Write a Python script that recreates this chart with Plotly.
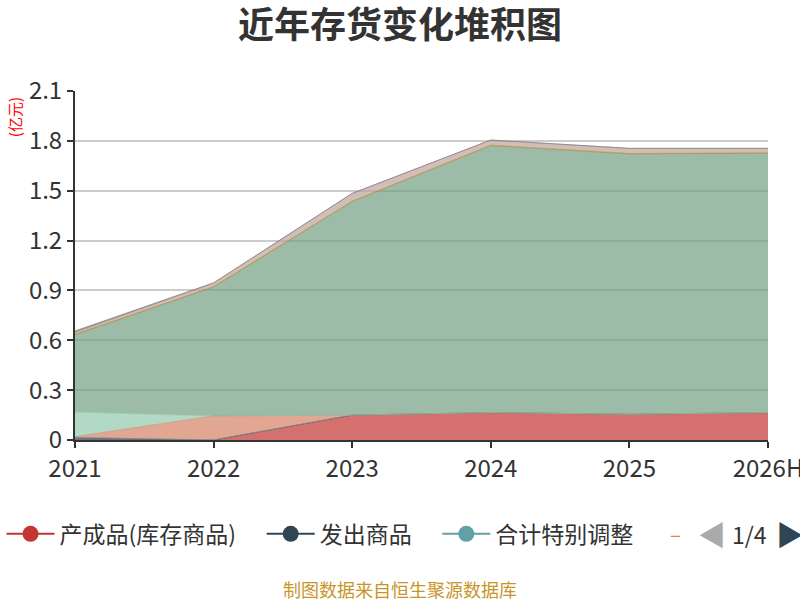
import plotly.graph_objects as go

years = ["2021", "2022", "2023", "2024", "2025", "2026H"]

# 存货构成（亿元），按堆积顺序
finished_goods = [0.0, 0.0, 0.15, 0.165, 0.155, 0.165]
goods_shipped = [0.015, 0.0, 0.0, 0.0, 0.0, 0.0]
special_adjust = [0.0, 0.0, 0.0, 0.0, 0.0, 0.0]
work_in_process = [0.005, 0.145, 0.0, 0.0, 0.0, 0.0]
consigned = [0.148, 0.0, 0.0, 0.0, 0.0, 0.0]
raw_materials = [0.465, 0.775, 1.284, 1.606, 1.566, 1.56]
turnover_materials = [0.003, 0.003, 0.003, 0.003, 0.003, 0.003]
low_value_items = [0.01, 0.02, 0.047, 0.031, 0.031, 0.027]
other_items = [0.01, 0.003, 0.0, 0.0, 0.0, 0.0]

series = [
    ("产成品(库存商品)", finished_goods, "#c23531"),
    ("发出商品", goods_shipped, "#2f4554"),
    ("合计特别调整", special_adjust, "#61a0a8"),
    ("在产品", work_in_process, "#d48265"),
    ("委托加工物资", consigned, "#91c7ae"),
    ("原材料", raw_materials, "#749f83"),
    ("周转材料", turnover_materials, "#ca8622"),
    ("低值易耗品", low_value_items, "#bda29a"),
    ("其他", other_items, "#6e7074"),
]


def rgba(hex_color, a):
    h = hex_color.lstrip("#")
    r, g, b = int(h[0:2], 16), int(h[2:4], 16), int(h[4:6], 16)
    return f"rgba({r},{g},{b},{a})"


fig = go.Figure()
for name, vals, color in series:
    fig.add_trace(go.Scatter(
        x=years, y=vals, name=name, mode="lines",
        stackgroup="inv", fillcolor=rgba(color, 0.7),
        line=dict(color=rgba(color, 0.6), width=1),
        showlegend=False,
    ))

# legend entries (line + dot, like the paged legend of the original)
pad = [4, 4, 2]
for (name, vals, color), n in zip(series[:3], pad):
    fig.add_trace(go.Scatter(
        x=[None], y=[None], name=name + "\u00a0" * n, mode="lines+markers",
        line=dict(color=color, width=2),
        marker=dict(color=color, size=20),
    ))

font = "Noto Sans CJK SC, Noto Sans, sans-serif"

# plot area: x 75..768, y 91..440 (px)
fig.update_layout(
    width=800, height=600,
    margin=dict(l=75, r=32, t=91, b=160, autoexpand=False),
    paper_bgcolor="white", plot_bgcolor="white",
    font=dict(family=font, color="#333333"),
    title=dict(text="<b>近年存货变化堆积图</b>", x=0.5, xanchor="center",
               y=0.957, yanchor="middle",
               font=dict(size=36, color="#333333", family=font)),
    legend=dict(orientation="h", x=-0.106, xanchor="left", y=-0.269, yanchor="middle",
                font=dict(size=23, color="#333333"), itemwidth=48,
                traceorder="normal", tracegroupgap=0, bgcolor="rgba(0,0,0,0)"),
    xaxis=dict(
        type="category", range=[0, 5], showgrid=False,
        showline=True, linecolor="#333333", linewidth=2,
        ticks="outside", ticklen=6, tickcolor="#333333", tickwidth=2,
        tickfont=dict(size=24, color="#333333"), zeroline=False,
    ),
    yaxis=dict(
        range=[0, 2.1], tickvals=[0, 0.3, 0.6, 0.9, 1.2, 1.5, 1.8, 2.1],
        ticktext=["0", "0.3", "0.6", "0.9", "1.2", "1.5", "1.8", "2.1"],
        showgrid=True, gridcolor="#cccccc", gridwidth=2,
        showline=True, linecolor="#333333", linewidth=2,
        ticks="outside", ticklen=6, tickcolor="#333333", tickwidth=2,
        tickfont=dict(size=24, color="#333333"), zeroline=False,
    ),
)

fig.add_annotation(text="(亿元)", xref="paper", yref="paper", x=-0.088, y=0.925,
                   xanchor="center", yanchor="middle",
                   textangle=-90, showarrow=False,
                   font=dict(size=15, color="#ff0000", family=font))
fig.add_annotation(text="制图数据来自恒生聚源数据库", xref="paper", yref="paper",
                   x=0.469, y=-0.427, xanchor="center", yanchor="middle", showarrow=False,
                   font=dict(size=18, color="#c9952a", family=font))
# legend pager
pager = [("–", 0.867, 20, "#d48265"), ("◀", 0.919, 28, "#aaaaaa"),
         ("1/4", 0.974, 23, "#333333"), ("▶", 1.032, 28, "#2f4554")]
for txt, px, sz, col in pager:
    fig.add_annotation(text=txt, xref="paper", yref="paper", x=px, y=-0.269,
                       xanchor="center", yanchor="middle", showarrow=False,
                       font=dict(size=sz, color=col, family=font))

fig.write_html("out.html", config={"displayModeBar": False},
               post_script="document.body.style.margin='0';")
